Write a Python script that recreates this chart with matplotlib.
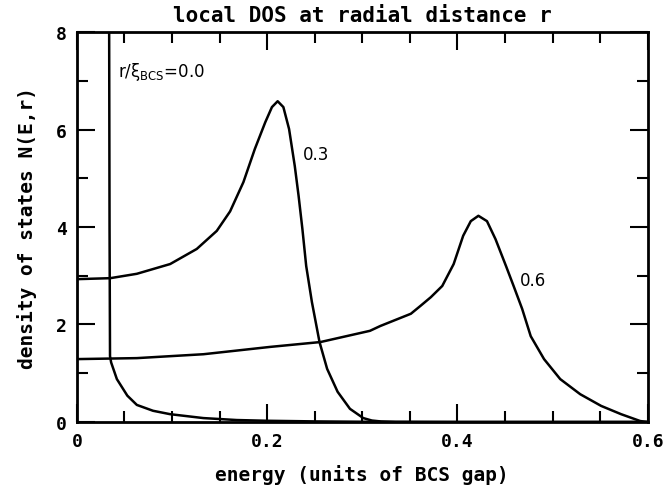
#
# local DOS at radial distance r (vortex core), redrawn from the figure
#
import numpy as np
import matplotlib
matplotlib.use('Agg')
import matplotlib.pyplot as plt
from matplotlib.ticker import MultipleLocator

# values
# r/xi_BCS = 0.0 : bound state line near E=0.034, then fast decay
e_r00 = [0.0338, 0.0343, 0.0348, 0.036, 0.042, 0.053, 0.063, 0.080, 0.098, 0.133, 0.168,
         0.2, 0.25, 0.3, 0.4, 0.6]
n_r00 = [9.0, 4.0, 1.35, 1.22, 0.88, 0.54, 0.35, 0.23, 0.16, 0.08, 0.04,
         0.025, 0.012, 0.005, 0.0, 0.0]

# r/xi_BCS = 0.3
e_r03 = [0.0, 0.035, 0.063, 0.098, 0.126, 0.147, 0.161, 0.175, 0.187, 0.198, 0.205, 0.211,
         0.217, 0.223, 0.229, 0.233, 0.237, 0.241, 0.247, 0.255, 0.263, 0.274, 0.287,
         0.301, 0.31, 0.32, 0.335, 0.6]
n_r03 = [2.93, 2.95, 3.04, 3.24, 3.55, 3.92, 4.32, 4.92, 5.60, 6.15, 6.46, 6.58,
         6.46, 6.01, 5.25, 4.64, 3.96, 3.20, 2.46, 1.64, 1.09, 0.62, 0.27,
         0.08, 0.03, 0.01, 0.0, 0.0]

# r/xi_BCS = 0.6
e_r06 = [0.0, 0.063, 0.133, 0.203, 0.256, 0.308, 0.319, 0.351, 0.361, 0.372, 0.384, 0.396,
         0.406, 0.414, 0.422, 0.431, 0.440, 0.451, 0.459, 0.468, 0.477, 0.491, 0.508,
         0.529, 0.551, 0.572, 0.592, 0.599]
n_r06 = [1.29, 1.31, 1.39, 1.54, 1.64, 1.87, 1.97, 2.22, 2.38, 2.56, 2.79, 3.24,
         3.82, 4.12, 4.23, 4.12, 3.75, 3.20, 2.79, 2.32, 1.76, 1.29, 0.88,
         0.57, 0.33, 0.16, 0.02, 0.0]

x_ticks = [0, 0.2, 0.4, 0.6]
x_ticklabels = ['0', '0.2', '0.4', '0.6']
y_ticks = [0, 2, 4, 6, 8]

font = 'DejaVu Sans Mono'

fig = plt.figure(figsize=(6.63, 4.89), dpi=100)
ax = fig.add_axes([0.116, 0.135, 0.861, 0.7975])

for e, n in [(e_r00, n_r00), (e_r03, n_r03), (e_r06, n_r06)]:
    ax.plot(e, n, color='black', lw=1.8, solid_joinstyle='round')

ax.set_xlim(0, 0.6)
ax.set_ylim(0, 8)
ax.set_xticks(x_ticks)
ax.set_xticklabels(x_ticklabels)
ax.set_yticks(y_ticks)
ax.xaxis.set_minor_locator(MultipleLocator(0.05))
ax.yaxis.set_minor_locator(MultipleLocator(1))
ax.tick_params(which='both', direction='in', top=True, right=True, width=1.5)
ax.tick_params(which='major', length=13, pad=7)
ax.tick_params(which='minor', length=8)
for lab in ax.get_xticklabels() + ax.get_yticklabels():
    lab.set_fontfamily(font)
    lab.set_fontweight('bold')
    lab.set_fontsize(13)
for sp in ax.spines.values():
    sp.set_linewidth(2)

ax.set_title('local DOS at radial distance r', family=font, fontweight='bold', fontsize=15, pad=8)
ax.set_xlabel('energy (units of BCS gap)', family=font, fontweight='bold', fontsize=14, labelpad=10)
ax.set_ylabel('density of states N(E,r)', family=font, fontweight='bold', fontsize=14, labelpad=14)

ax.text(0.043, 7.2, r'r/$\mathregular{\xi_{BCS}}$=0.0', fontsize=12, va='center', ha='left')
ax.text(0.238, 5.5, '0.3', fontsize=12, va='center', ha='left')
ax.text(0.466, 2.91, '0.6', fontsize=12, va='center', ha='left')

plt.savefig('out.png', dpi=100)
